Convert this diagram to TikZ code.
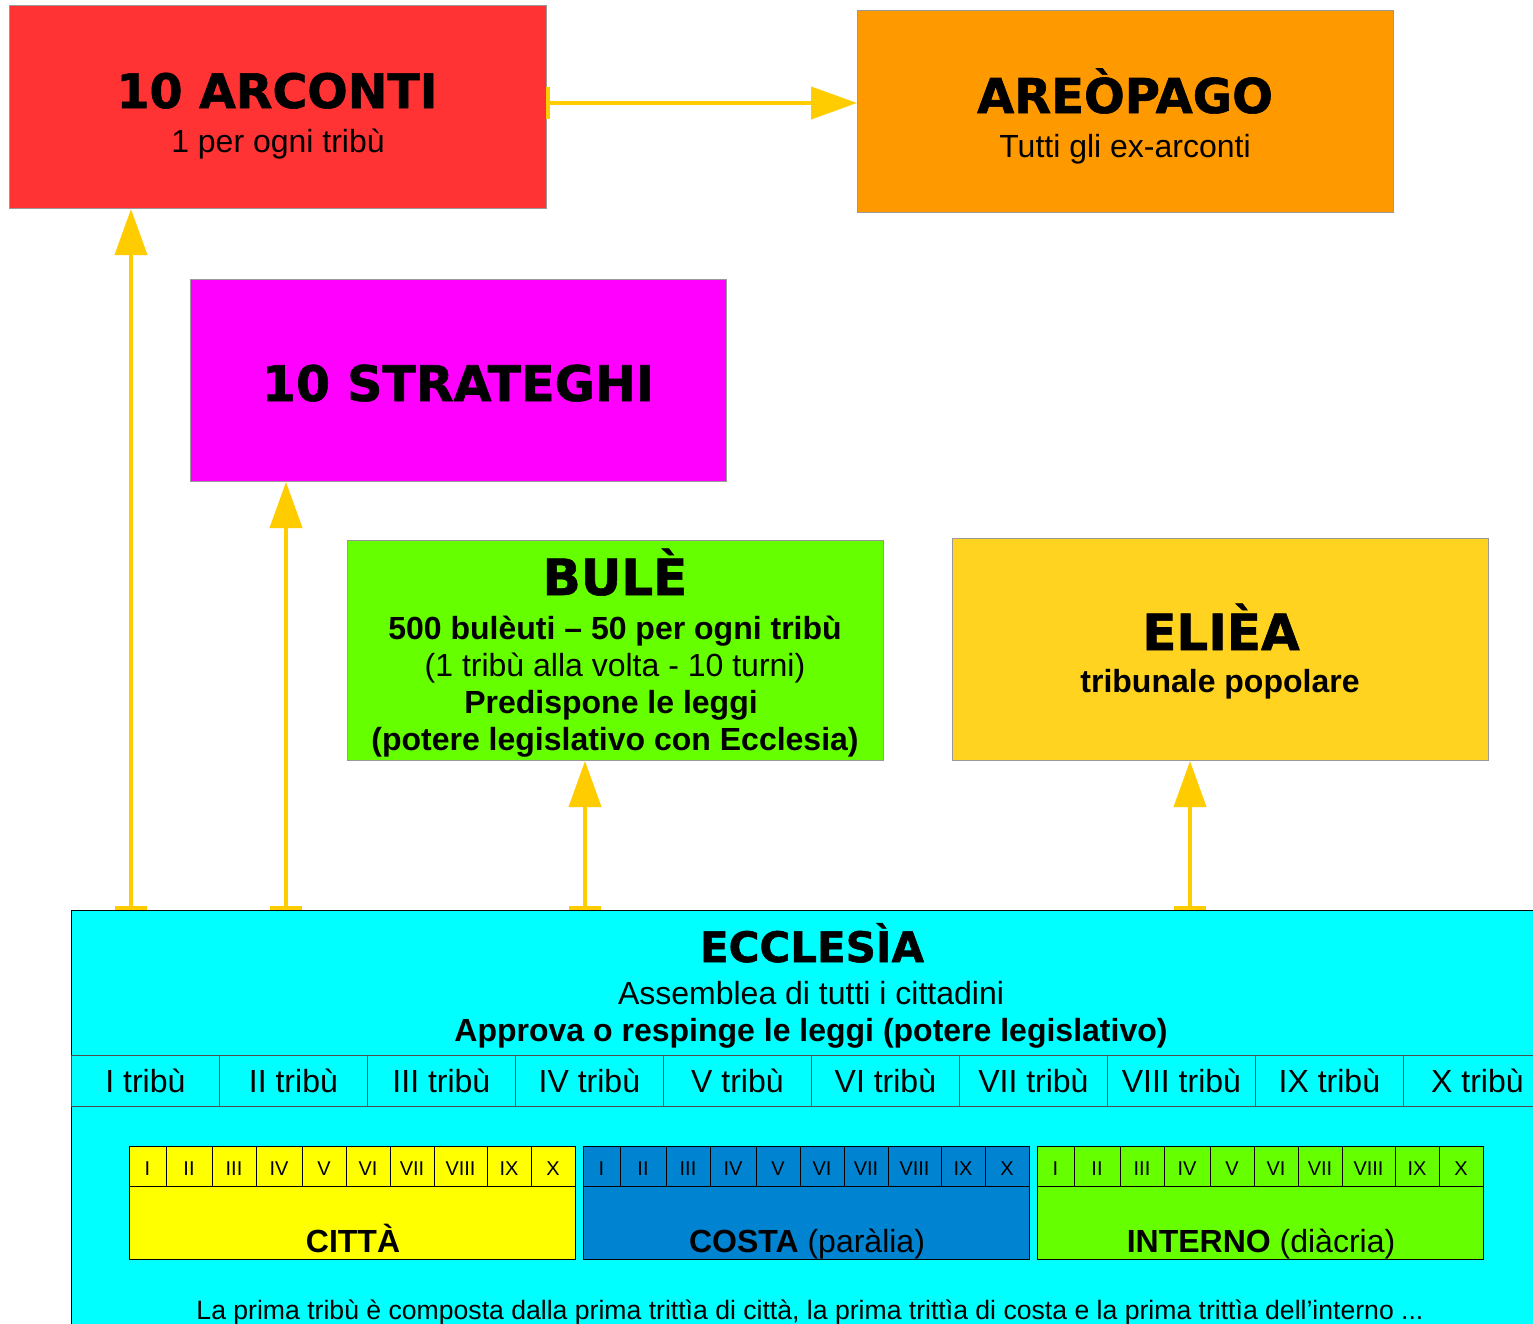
\documentclass[tikz,border=0pt]{standalone}
\usepackage{fontspec}
\setmainfont{Liberation Sans}
\newfontfamily\heavyfont{DejaVu Sans}[BoldFeatures={FakeBold=1.2}]
\usetikzlibrary{arrows.meta}

\definecolor{arcred}{HTML}{FF3333}
\definecolor{areoorange}{HTML}{FF9900}
\definecolor{stratmagenta}{HTML}{FF00FF}
\definecolor{bulegreen}{HTML}{66FF00}
\definecolor{elieayellow}{HTML}{FFD320}
\definecolor{ecclcyan}{HTML}{00FFFF}
\definecolor{cittayellow}{HTML}{FFFF00}
\definecolor{costablue}{HTML}{0084D1}
\definecolor{linkyellow}{HTML}{FFCC00}
\definecolor{boxgray}{HTML}{999999}

\begin{document}
\begin{tikzpicture}[x=1pt, y=-1pt,
  box/.style={draw=boxgray, line width=1pt, anchor=north west, inner sep=0pt},
  heading/.style={font=\heavyfont\bfseries\fontsize{#1}{50}\selectfont, anchor=base, inner sep=0pt},
  heading/.default=48,
  plain/.style={font=\fontsize{32}{38}\selectfont, anchor=base, inner sep=0pt},
  strong/.style={font=\bfseries\fontsize{32}{38}\selectfont, anchor=base, inner sep=0pt},
  tribucell/.style={draw=black!70, line width=0.8pt, anchor=north west, inner sep=0pt,
    minimum width=148pt, minimum height=51pt, font=\fontsize{32}{38}\selectfont},
  cell/.style={draw=black, line width=0.8pt},
  numeral/.style={font=\fontsize{20}{24}\selectfont, anchor=base, inner sep=0pt},
  link/.style={draw=linkyellow, line width=4pt, {Bar[width=32pt]}-{Triangle[length=46pt,width=32pt]}}]

\def \rowtop {1146}
\def \rowbot {1186}

\clip (0,0) rectangle (1533,1323);
\fill[white] (0,0) rectangle (1533,1323);

% upper magistrates
\node[box, fill=arcred, minimum width=537pt, minimum height=203pt] (arconti) at (9,5) {};
\node[heading=47.5] (arcontiT) at (277,108) {10 ARCONTI};
\node[plain] (arcontiS) at (278,152) {1 per ogni tribù};

\node[box, fill=areoorange, minimum width=536pt, minimum height=202pt] (areopago) at (857,10) {};
\node[heading] (areopagoT) at (1125,113) {AREÒPAGO};
\node[plain] (areopagoS) at (1125,157) {Tutti gli ex-arconti};

\node[box, fill=stratmagenta, minimum width=536pt, minimum height=202pt] (strateghi) at (190,279) {};
\node[heading=49] (strateghiT) at (458,401) {10 STRATEGHI};

\node[box, fill=bulegreen, minimum width=536pt, minimum height=220pt] (bule) at (347,540) {};
\node[heading=50] (buleT) at (615,595) {BULÈ};
\node[strong] (bule1) at (615,639) {500 bulèuti -- 50 per ogni tribù};
\node[plain] (bule2) at (615,676) {(1 tribù alla volta - 10 turni)};
\node[strong] (bule3) at (611,713) {Predispone le leggi};
\node[strong] (bule4) at (615,750) {(potere legislativo con Ecclesia)};

\node[box, fill=elieayellow, minimum width=536pt, minimum height=222pt] (eliea) at (952,538) {};
\node[heading=50] (elieaT) at (1221,650) {ELIÈA};
\node[strong] (elieaS) at (1220,692) {tribunale popolare};

% assembly
\node[draw=black, line width=1pt, fill=ecclcyan, anchor=north west, inner sep=0pt,
  minimum width=1479pt, minimum height=450pt] (ecclesia) at (71,910) {};
\node[heading=42] (ecclesiaT) at (812,962) {ECCLESÌA};
\node[plain] (ecclesia1) at (811,1004) {Assemblea di tutti i cittadini};
\node[strong] (ecclesia2) at (811,1041) {Approva o respinge le leggi (potere legislativo)};

\foreach \r [count=\i from 0] in {I,II,III,IV,V,VI,VII,VIII,IX,X}
    \node[tribucell] (tribu\i) at ({71+148*\i},1055) {\r\ tribù};

% trittie
\foreach \x/\c/\t [count=\g] in {129/cittayellow/{\textbf{CITTÀ}},
    583/costablue/{\textbf{COSTA} (paràlia)},
    1037/bulegreen/{\textbf{INTERNO} (diàcria)}}
{
    \fill[\c] (\x,\rowtop) rectangle ({\x+446},1259);
    \foreach \r/\a/\b in {I/0/37, II/37/83, III/83/127, IV/127/173, V/173/217,
        VI/217/261, VII/261/305, VIII/305/358, IX/358/402, X/402/446}
    {
        \draw[cell] ({\x+\a},\rowtop) rectangle ({\x+\b},\rowbot);
        \node[numeral] (num\g\r) at ({\x+(\a+\b)/2},1175) {\r};
    }
    \draw[cell] (\x,\rowtop) rectangle ({\x+446},1259);
    \node[plain] (trittia\g) at ({\x+224},1252) {\t};
}

\node[font=\fontsize{26.6}{30}\selectfont, anchor=base, inner sep=0pt] (nota) at (810,1319)
  {La prima tribù è composta dalla prima trittìa di città, la prima trittìa di costa e la prima trittìa dell'interno ...};

% connectors
\coordinate (h1) at (546,103);
\draw[link] (h1) -- (h1 -| areopago.west);
\coordinate (e1) at (131,910);
\coordinate (e2) at (286,910);
\coordinate (e3) at (585,910);
\coordinate (e4) at (1190,910);
\draw[link] (e1) -- (e1 |- arconti.south);
\draw[link] (e2) -- (e2 |- strateghi.south);
\draw[link] (e3) -- (e3 |- bule.south);
\draw[link] (e4) -- (e4 |- eliea.south);
\end{tikzpicture}
\end{document}
